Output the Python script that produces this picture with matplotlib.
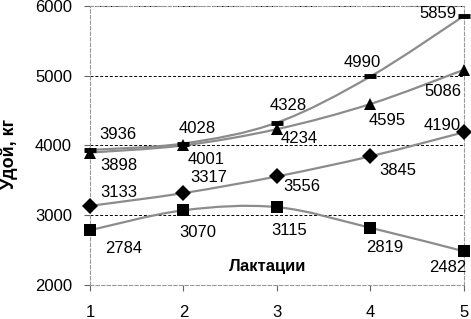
import numpy as np
import matplotlib
matplotlib.use("Agg")
from matplotlib import pyplot as plt
from matplotlib.path import Path
from matplotlib.patches import PathPatch

plt.rcParams['font.family'] = ['Liberation Sans', 'DejaVu Sans']

lactations = [1, 2, 3, 4, 5]
top_vals = [3936, 4028, 4328, 4990, 5859]
tri_vals = [3898, 4001, 4234, 4595, 5086]
dia_vals = [3133, 3317, 3556, 3845, 4190]
sq_vals = [2784, 3070, 3115, 2819, 2482]

# label offsets in points (dx, dy)
top_offs = [(20, 11), (10, 11), (8, 12), (-6, 10), (-19, 2)]
tri_offs = [(21, -9), (16, -10), (16, -7), (12, -12), (-15, -16)]
dia_offs = [(21, 10), (18, 11), (18, -7), (20, -10), (-16, 5)]
sq_offs = [(24, -13), (10, -16), (9, -17), (10, -14), (-12, -12)]


def smooth_path(xs, ys):
    # excel-like smoothed line: cubic bezier with catmull-rom control points
    pts = list(zip(xs, ys))
    verts = [pts[0]]
    codes = [Path.MOVETO]
    n = len(pts)
    for i in range(n - 1):
        p0 = pts[i - 1] if i > 0 else pts[i]
        p1 = pts[i]
        p2 = pts[i + 1]
        p3 = pts[i + 2] if i + 2 < n else pts[i + 1]
        c1 = (p1[0] + (p2[0] - p0[0]) / 6, p1[1] + (p2[1] - p0[1]) / 6)
        c2 = (p2[0] - (p3[0] - p1[0]) / 6, p2[1] - (p3[1] - p1[1]) / 6)
        verts += [c1, c2, p2]
        codes += [Path.CURVE4] * 3
    return Path(verts, codes)


fig = plt.figure(figsize=(4.71, 3.19), dpi=100)
ax = fig.add_axes([0.191, 0.107, 0.794, 0.874])

series = [
    (top_vals, '_', 9, top_offs),
    (tri_vals, '^', 9, tri_offs),
    (dia_vals, 'D', 8, dia_offs),
    (sq_vals, 's', 9, sq_offs),
]

for vals, mk, ms, offs in series:
    ax.add_patch(PathPatch(smooth_path(lactations, vals), fill=False,
                           edgecolor='#8c8c8c', lw=1.6, zorder=3))
    mew = 3.5 if mk == '_' else 0
    ax.plot(lactations, vals, linestyle='none', marker=mk, ms=ms,
            color='black', mew=mew, zorder=4, clip_on=False)
    for x, v, (dx, dy) in zip(lactations, vals, offs):
        ax.annotate(str(v), (x, v), xytext=(dx, dy), textcoords='offset points',
                    ha='center', va='center', fontsize=12, zorder=5)

ax.set_xlim(1, 5)
ax.set_ylim(2000, 6000)
ax.set_xticks(lactations)
ax.set_yticks([2000, 3000, 4000, 5000, 6000])
for y in [3000, 4000, 5000, 6000]:
    ax.axhline(y, color='black', lw=0.7, ls=(0, (3, 2)), zorder=1)
for s in ax.spines.values():
    s.set_color('#999999')
    s.set_linestyle((0, (3, 2)))
    s.set_linewidth(0.8)
ax.tick_params(axis='both', labelsize=12, length=4, color='#666666', direction='out')
ax.tick_params(axis='x', pad=10.5)
ax.tick_params(axis='y', pad=9)

ax.set_ylabel('Удой, кг', fontsize=13, fontweight='bold')
ax.yaxis.set_label_coords(-0.217, 0.47)
ax.yaxis.label.set_va('center')
ax.text(2.9, 2270, 'Лактации', fontsize=12, fontweight='bold', ha='center', va='center')

fig.savefig('out.png', dpi=100)
